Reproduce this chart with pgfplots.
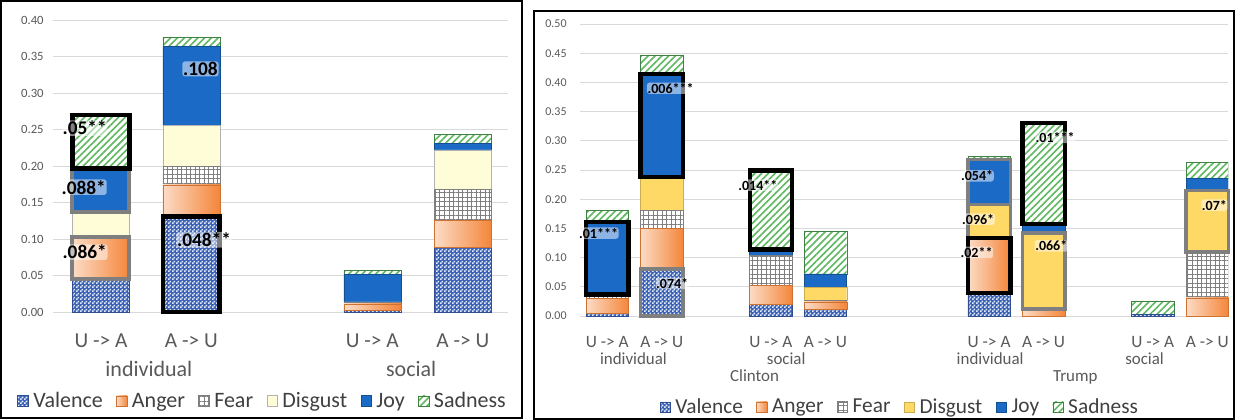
\documentclass[border=0pt]{standalone}
\usepackage{pgfplots}
\usepackage{pgfplotstable}
\pgfplotsset{compat=1.18}
\usepackage{fontspec}
\setmainfont{Carlito}
\usetikzlibrary{patterns.meta}

\definecolor{tickgray}{HTML}{595959}
\definecolor{leggray}{HTML}{404040}
\definecolor{gridgray}{HTML}{D9D9D9}
\definecolor{valblue}{HTML}{3A60B4}
\definecolor{valedge}{HTML}{2F4F8F}
\definecolor{vallight}{HTML}{E4ECF8}
\definecolor{angL}{HTML}{FCDCC6}
\definecolor{angR}{HTML}{F4863A}
\definecolor{feargray}{HTML}{7F7F7F}
\definecolor{disgL}{HTML}{FFFCD8}
\definecolor{disgR}{HTML}{FFD966}
\definecolor{joyblue}{HTML}{1B6AC6}
\definecolor{joyedge}{HTML}{12508F}
\definecolor{sadgreen}{HTML}{5DB85F}
\definecolor{hlgray}{HTML}{7F7F7F}

\tikzdeclarepattern{
  name=checks, type=uncolored,
  bottom left={(0pt,0pt)}, top right={(3pt,3pt)}, tile size={(3pt,3pt)},
  code={\pgfpathrectangle{\pgfpoint{0pt}{0pt}}{\pgfpoint{1.5pt}{1.5pt}}
        \pgfpathrectangle{\pgfpoint{1.5pt}{1.5pt}}{\pgfpoint{1.5pt}{1.5pt}}
        \pgfusepath{fill}}
}

\tikzset{
  labL/.style={font=\bfseries\fontsize{14.5}{15}\selectfont, fill=white, fill opacity=0.5, text opacity=1, inner sep=0.6pt, rounded corners=2pt},
  grpL/.style={font=\fontsize{16.5}{18}\selectfont, text=tickgray, anchor=base},
  labR/.style={font=\bfseries\fontsize{10.5}{11}\selectfont, fill=white, fill opacity=0.5, text opacity=1, inner sep=0.5pt, rounded corners=2pt},
  grpR/.style={font=\fontsize{12.7}{14}\selectfont, text=tickgray, anchor=base},
}

\pgfplotsset{
  legbox/.style={legend image code/.code={\draw[##1] (0pt,-4pt) rectangle (8pt,4pt);}},
  valstyle/.style={fill=valblue, draw=valedge, line width=0.4pt,
     postaction={pattern=checks, pattern color=vallight}, legbox},
  angstyle/.style={left color=angL, right color=angR, draw=angR!85!black, line width=0.3pt, legbox},
  angbar/.style={left color=angL, right color=angR, draw=angR!85!black, line width=0.3pt,
     mark=none, sharp plot, forget plot},
  fearstyle/.style={fill=white, draw=feargray, line width=0.4pt,
     postaction={pattern={Hatch[angle=0,distance=3.4pt,line width=0.45pt]}, pattern color=feargray}, legbox},
  disgLstyle/.style={fill=disgL, draw=black!30, line width=0.4pt, legbox},
  disgRstyle/.style={fill=disgR, draw=disgR!80!black, line width=0.3pt, legbox},
  joystyle/.style={fill=joyblue, draw=joyedge, line width=0.4pt, legbox},
  sadstyle/.style={fill=white, draw=sadgreen!70!black, line width=0.3pt,
     postaction={pattern={Lines[angle=45,distance=3.6pt,line width=1.2pt]}, pattern color=sadgreen}, legbox},
  hlblack/.style={draw=black, line width=3.6pt, line join=miter, line cap=rect, mark=none, sharp plot, forget plot},
  hlgrayL/.style={draw=hlgray, line width=3pt, line join=miter, line cap=rect, mark=none, sharp plot, forget plot},
  hlblackR/.style={draw=black, line width=3.2pt, line join=miter, line cap=rect, mark=none, sharp plot, forget plot},
  hlgrayR/.style={draw=hlgray, line width=2.7pt, line join=miter, line cap=rect, mark=none, sharp plot, forget plot},
  baseaxis/.style={
    scale only axis, anchor=south west,
    axis line style={draw=none}, tick style={draw=none},
    ymajorgrids, grid style={gridgray, line width=0.75pt},
    ybar stacked,
    yticklabel style={font=\fontsize{9.5}{10}\selectfont, text=tickgray, anchor=east},
    legend columns=6,
    legend cell align=left,
  },
}

\pgfplotstableread{
x val ang fear disg joy sad
0 0.045 0.058 0.002 0.032 0.060 0.073
1 0.131 0.043 0.025 0.057 0.108 0.012
3 0.003 0.008 0.002 0.001 0.038 0.005
4 0.089 0.037 0.042 0.054 0.009 0.012
}\leftdata

\pgfplotstableread{
x val ang fear disg joy sad
0  0.004 0.026 0.007 0.000 0.124 0.020
1  0.080 0.070 0.031 0.057 0.177 0.032
3  0.020 0.033 0.051 0.000 0.010 0.135
4  0.012 0.012 0.003 0.022 0.023 0.073
7  0.040 0.093 0.000 0.058 0.077 0.005
8  0.000 0.010 0.002 0.130 0.016 0.172
10 0.003 0.000 0.000 0.000 0.000 0.023
11 0.000 0.031 0.079 0.105 0.021 0.027
}\rightdata

\begin{document}
\begin{tikzpicture}
\useasboundingbox (0,0) rectangle (926.25pt,-314.25pt);
\draw[black, line width=1.5pt] (0.75pt,-0.75pt) rectangle (391.5pt,-313.5pt);
\draw[black, line width=1.5pt] (400.5pt,-8.25pt) rectangle (925.5pt,-314.25pt);

% ---------------- LEFT PANEL ----------------
\begin{axis}[baseaxis,
  at={(39.75pt,-234pt)}, width=341.25pt, height=219pt,
  xmin=-0.53, xmax=4.5, ymin=0, ymax=0.4,
  bar width=0.63,
  ytick={0,0.05,0.1,0.15,0.2,0.25,0.3,0.35,0.4},
  yticklabels={0.00,0.05,0.10,0.15,0.20,0.25,0.30,0.35,0.40},
  yticklabel style={xshift=-3.5pt},
  xtick={0,1,3,4},
  xticklabels={U -> A, A -> U, U -> A, A -> U},
  xticklabel style={font=\fontsize{16}{18}\selectfont, text=tickgray, anchor=base, yshift=-26.25pt},
  legend style={at={(0.4615,-0.305)}, anchor=center, draw=none, fill=none,
    font=\fontsize{16.5}{18}\selectfont, text=leggray,
    /tikz/every odd column/.append style={column sep=1.5pt},
    /tikz/every even column/.append style={column sep=8pt}},
]
\addplot[valstyle] table[x=x,y=val]{\leftdata};
\addplot[angstyle] table[x=x,y=ang]{\leftdata};
\addplot[fearstyle] table[x=x,y=fear]{\leftdata};
\addplot[disgLstyle] table[x=x,y=disg]{\leftdata};
\addplot[joystyle] table[x=x,y=joy]{\leftdata};
\addplot[sadstyle] table[x=x,y=sad]{\leftdata};
\legend{Valence,Anger,Fear,Disgust,Joy,Sadness}
\end{axis}

\begin{axis}[scale only axis, anchor=south west, hide axis, clip=false,
  at={(39.75pt,-234pt)}, width=341.25pt, height=219pt,
  xmin=-0.53, xmax=4.5, ymin=0, ymax=0.4,
]
% anger segments, one path per bar so the gradient runs across each bar
\addplot[angbar] coordinates {(-0.315,0.045) (0.315,0.045) (0.315,0.103) (-0.315,0.103) (-0.315,0.045)};
\addplot[angbar] coordinates {(0.685,0.131) (1.315,0.131) (1.315,0.174) (0.685,0.174) (0.685,0.131)};
\addplot[angbar] coordinates {(2.685,0.003) (3.315,0.003) (3.315,0.011) (2.685,0.011) (2.685,0.003)};
\addplot[angbar] coordinates {(3.685,0.089) (4.315,0.089) (4.315,0.126) (3.685,0.126) (3.685,0.089)};
% highlighted segments
\addplot[hlgrayL] coordinates {(-0.315,0.045) (0.315,0.045) (0.315,0.103) (-0.315,0.103) (-0.315,0.045)};
\addplot[hlgrayL] coordinates {(-0.315,0.137) (0.315,0.137) (0.315,0.197) (-0.315,0.197) (-0.315,0.137)};
\addplot[hlblack] coordinates {(-0.315,0.197) (0.315,0.197) (0.315,0.270) (-0.315,0.270) (-0.315,0.197)};
\addplot[hlblack] coordinates {(0.685,0) (1.315,0) (1.315,0.131) (0.685,0.131) (0.685,0)};
\node[labL] at (axis cs:-0.18,0.252) {.05**};
\node[labL] at (axis cs:-0.19,0.171) {.088*};
\node[labL] at (axis cs:-0.18,0.082) {.086*};
\node[labL] at (axis cs:1.14,0.099) {.048**};
\node[labL] at (axis cs:1.10,0.333) {.108};
\node[grpL, yshift=-48pt] at (axis cs:0.53,0) {individual};
\node[grpL, yshift=-48pt] at (axis cs:3.43,0) {social};
\end{axis}

% ---------------- RIGHT PANEL ----------------
\begin{axis}[baseaxis,
  at={(435pt,-237pt)}, width=486pt, height=219pt,
  xmin=-0.5, xmax=11.38, ymin=0, ymax=0.5,
  bar width=0.78,
  ytick={0,0.05,0.1,0.15,0.2,0.25,0.3,0.35,0.4,0.45,0.5},
  yticklabels={0.00,0.05,0.10,0.15,0.20,0.25,0.30,0.35,0.40,0.45,0.50},
  yticklabel style={xshift=-6.5pt, font=\fontsize{9}{10}\selectfont},
  xtick={0,1,3,4,7,8,10,11},
  xticklabels={U -> A, A -> U, U -> A, A -> U, U -> A, A -> U, U -> A, A -> U},
  xticklabel style={font=\fontsize{13}{14}\selectfont, text=tickgray, anchor=base, yshift=-23.25pt},
  legend style={at={(0.494,-0.312)}, anchor=center, draw=none, fill=none,
    font=\fontsize{16}{18}\selectfont, text=leggray,
    /tikz/every odd column/.append style={column sep=1.5pt},
    /tikz/every even column/.append style={column sep=8pt}},
]
\addplot[valstyle] table[x=x,y=val]{\rightdata};
\addplot[angstyle] table[x=x,y=ang]{\rightdata};
\addplot[fearstyle] table[x=x,y=fear]{\rightdata};
\addplot[disgRstyle] table[x=x,y=disg]{\rightdata};
\addplot[joystyle] table[x=x,y=joy]{\rightdata};
\addplot[sadstyle] table[x=x,y=sad]{\rightdata};
\legend{Valence,Anger,Fear,Disgust,Joy,Sadness}
\end{axis}

\begin{axis}[scale only axis, anchor=south west, hide axis, clip=false,
  at={(435pt,-237pt)}, width=486pt, height=219pt,
  xmin=-0.5, xmax=11.38, ymin=0, ymax=0.5,
]
% anger segments, one path per bar
\addplot[angbar] coordinates {(-0.39,0.004) (0.39,0.004) (0.39,0.030) (-0.39,0.030) (-0.39,0.004)};
\addplot[angbar] coordinates {(0.61,0.080) (1.39,0.080) (1.39,0.150) (0.61,0.150) (0.61,0.080)};
\addplot[angbar] coordinates {(2.61,0.020) (3.39,0.020) (3.39,0.053) (2.61,0.053) (2.61,0.020)};
\addplot[angbar] coordinates {(3.61,0.012) (4.39,0.012) (4.39,0.024) (3.61,0.024) (3.61,0.012)};
\addplot[angbar] coordinates {(6.61,0.040) (7.39,0.040) (7.39,0.133) (6.61,0.133) (6.61,0.040)};
\addplot[angbar] coordinates {(7.61,0.000) (8.39,0.000) (8.39,0.010) (7.61,0.010) (7.61,0.000)};
\addplot[angbar] coordinates {(10.61,0.000) (11.39,0.000) (11.39,0.031) (10.61,0.031) (10.61,0.000)};
% highlighted segments
\addplot[hlgrayR] coordinates {(0.61,0) (1.39,0) (1.39,0.080) (0.61,0.080) (0.61,0)};
\addplot[hlgrayR] coordinates {(6.61,0.133) (7.39,0.133) (7.39,0.191) (6.61,0.191) (6.61,0.133)};
\addplot[hlgrayR] coordinates {(6.61,0.191) (7.39,0.191) (7.39,0.268) (6.61,0.268) (6.61,0.191)};
\addplot[hlgrayR] coordinates {(7.61,0.012) (8.39,0.012) (8.39,0.142) (7.61,0.142) (7.61,0.012)};
\addplot[hlgrayR] coordinates {(10.61,0.110) (11.39,0.110) (11.39,0.215) (10.61,0.215) (10.61,0.110)};
\addplot[hlblackR] coordinates {(-0.39,0.037) (0.39,0.037) (0.39,0.161) (-0.39,0.161) (-0.39,0.037)};
\addplot[hlblackR] coordinates {(0.61,0.238) (1.39,0.238) (1.39,0.415) (0.61,0.415) (0.61,0.238)};
\addplot[hlblackR] coordinates {(2.61,0.114) (3.39,0.114) (3.39,0.249) (2.61,0.249) (2.61,0.114)};
\addplot[hlblackR] coordinates {(6.61,0.040) (7.39,0.040) (7.39,0.133) (6.61,0.133) (6.61,0.040)};
\addplot[hlblackR] coordinates {(7.61,0.158) (8.39,0.158) (8.39,0.330) (7.61,0.330) (7.61,0.158)};
\node[labR] at (axis cs:-0.16,0.142) {.01***};
\node[labR] at (axis cs:1.16,0.390) {.006***};
\node[labR] at (axis cs:1.19,0.056) {.074*};
\node[labR] at (axis cs:2.76,0.224) {.014**};
\node[labR] at (axis cs:6.78,0.240) {.054*};
\node[labR] at (axis cs:6.80,0.166) {.096*};
\node[labR] at (axis cs:6.77,0.109) {.02**};
\node[labR] at (axis cs:8.21,0.306) {.01***};
\node[labR] at (axis cs:8.14,0.120) {.066*};
\node[labR] at (axis cs:11.13,0.190) {.07*};
\node[grpR, yshift=-36pt] at (axis cs:0.48,0) {individual};
\node[grpR, yshift=-36pt] at (axis cs:3.28,0) {social};
\node[grpR, yshift=-36pt] at (axis cs:7.02,0) {individual};
\node[grpR, yshift=-36pt] at (axis cs:9.85,0) {social};
\node[grpR, yshift=-48.75pt] at (axis cs:2.7,0) {Clinton};
\node[grpR, yshift=-48.75pt] at (axis cs:8.58,0) {Trump};
\end{axis}
\end{tikzpicture}
\end{document}
